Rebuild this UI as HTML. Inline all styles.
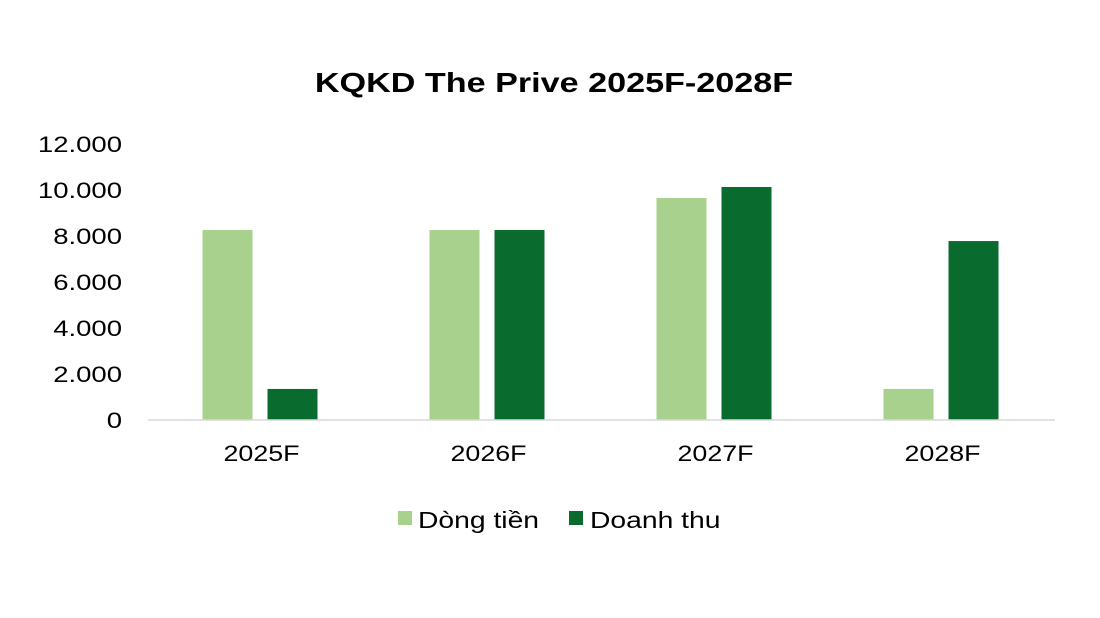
<!DOCTYPE html>
<html><head><meta charset="utf-8"><style>
body{margin:0;background:#fff;}
svg{display:block;font-family:"Liberation Sans",sans-serif;}
</style></head><body>
<svg width="1100" height="618">
<g transform="translate(554,92) scale(1.22,1)"><text x="0" y="0" text-anchor="middle" font-size="28" font-weight="bold" fill="#000">KQKD The Prive 2025F-2028F</text></g>
<g id="yaxis"></g><g id="bars"></g><g id="xaxis"></g>
<line x1="148" y1="420" x2="1055" y2="420" stroke="#d9d9d9" stroke-width="1.5"/>
<g>
<rect x="398" y="511" width="14" height="14" fill="#a9d18e"/>
<g transform="translate(418,528) scale(1.23,1)"><text x="0" y="0" font-size="23" fill="#000">Dòng tiền</text></g>
<rect x="569" y="511" width="14" height="14" fill="#0a6b2e"/>
<g transform="translate(590,528) scale(1.23,1)"><text x="0" y="0" font-size="23" fill="#000">Doanh thu</text></g>
</g>
</svg>
<script>
const categories=["2025F","2026F","2027F","2028F"];
const dongTien=[8260,8260,9650,1350];
const doanhThu=[1350,8260,10130,7780];
const yTicks=[0,2000,4000,6000,8000,10000,12000];
const yTickLabels=["0","2.000","4.000","6.000","8.000","10.000","12.000"];
const NS="http://www.w3.org/2000/svg";
const y0=420,yTop=144,yMax=12000;
function y(v){return y0-(v/yMax)*(y0-yTop);}
const xStart=148,catW=227;
function xc(i){return xStart+catW*(i+0.5);}
const ya=document.getElementById('yaxis');
yTicks.forEach((t,i)=>{
 const g=document.createElementNS(NS,'g');
 g.setAttribute('transform','translate(122,'+(y(t)+8)+') scale(1.25,1)');
 const tx=document.createElementNS(NS,'text');
 tx.setAttribute('x',0);tx.setAttribute('y',0);
 tx.setAttribute('text-anchor','end');tx.setAttribute('font-size','22');tx.setAttribute('fill','#000');
 tx.textContent=yTickLabels[i];
 
 
 g.appendChild(tx);ya.appendChild(g);
});
const bg=document.getElementById('bars'),xa=document.getElementById('xaxis');
categories.forEach((c,i)=>{
 const cx=xc(i);
 [[dongTien[i],cx-59,'#a9d18e','bar-dong-tien-'],[doanhThu[i],cx+6,'#0a6b2e','bar-doanh-thu-']].forEach(([v,x,col,n])=>{
  const r=document.createElementNS(NS,'rect');
  r.setAttribute('x',x);r.setAttribute('y',y(v));r.setAttribute('width',50);r.setAttribute('height',y0-y(v));r.setAttribute('fill',col);
  
  
  bg.appendChild(r);
 });
 const g=document.createElementNS(NS,'g');
 g.setAttribute('transform','translate('+cx+',461) scale(1.22,1)');
 const tx=document.createElementNS(NS,'text');
 tx.setAttribute('x',0);tx.setAttribute('y',0);tx.setAttribute('text-anchor','middle');tx.setAttribute('font-size','22');tx.setAttribute('fill','#000');
 tx.textContent=c;
 
 
 g.appendChild(tx);xa.appendChild(g);
});
</script>
</body></html>
